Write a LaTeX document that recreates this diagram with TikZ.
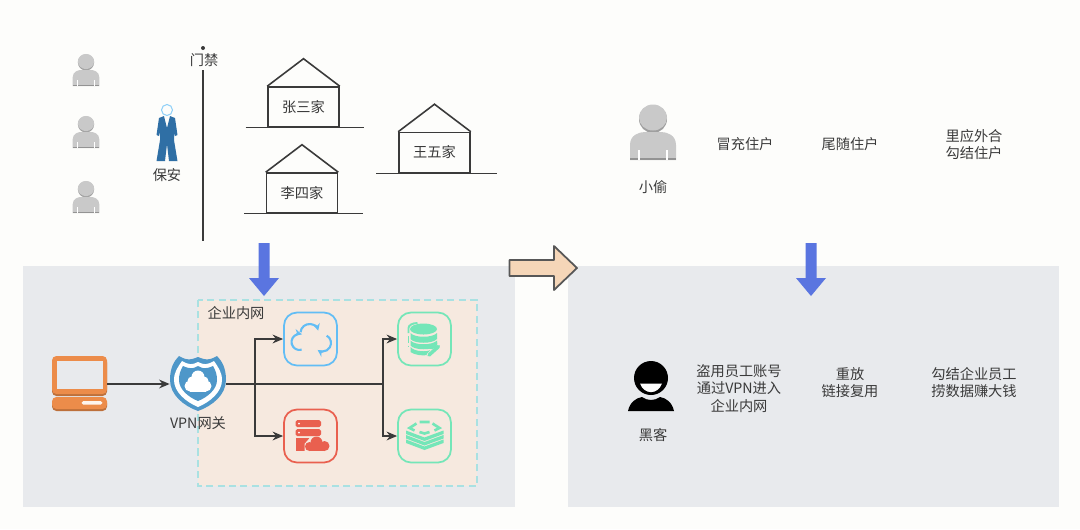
\documentclass[tikz,border=0pt]{standalone}
\usepackage{fontspec}
\setmainfont{Noto Sans CJK SC}
\usetikzlibrary{arrows.meta, positioning, calc}

\definecolor{pagebg}{HTML}{FDFDFB}
\definecolor{panelgray}{HTML}{E8EAED}
\definecolor{lanfill}{HTML}{F6E9DF}
\definecolor{lanedge}{HTML}{A9E1E2}
\definecolor{inktext}{HTML}{3A3A3A}
\definecolor{pushblue}{HTML}{5A75E0}
\definecolor{shieldblue}{HTML}{4E97C9}
\definecolor{suitblue}{HTML}{2F6FA5}
\definecolor{cloudblue}{HTML}{62BDF5}
\definecolor{serverred}{HTML}{E9604F}
\definecolor{dbgreen}{HTML}{74E6B8}
\definecolor{laptoporange}{HTML}{EC8C4A}
\definecolor{turnfill}{HTML}{F5D6B8}

\begin{document}
\begin{tikzpicture}[
    x=0.02cm, y=-0.02cm,
    every node/.style={font=\fontsize{8.1pt}{9.9pt}\selectfont, text=inktext, align=center, inner sep=0pt},
    lane/.style={draw=lanedge, dashed, dash pattern=on 4pt off 2.5pt, line width=0.8pt, fill=lanfill},
    housebox/.style={rectangle, draw=inktext, line width=0.9pt, minimum width=1.42cm, minimum height=0.8cm},
    ground/.style={draw=inktext, line width=0.8pt},
    iconbox/.style={rectangle, draw, rounded corners=0.26cm, line width=1pt, minimum size=1.06cm},
    arrow/.style={draw=inktext, line width=0.8pt, -{Stealth[length=6pt,width=5pt]}},
    trunk/.style={draw=inktext, line width=1pt},
    person/.pic={
        \fill[gray!75] (0,-20) ellipse (14 and 14);
        \fill[gray!42] (0,-21.5) ellipse (14 and 13);
        \fill[gray!42] (-23,21) -- (-23,6) .. controls (-23,-4) and (-14,-7) .. (-8,-7) -- (8,-7)
            .. controls (14,-7) and (23,-4) .. (23,6) -- (23,21) -- cycle;
        \fill[gray!85] (-23,18.5) rectangle (23,21);
        \draw[white, line width=0.6pt] (-14,11) -- (-14,21) (14,11) -- (14,21);
    },
    guard/.pic={
        \draw[cloudblue!70, line width=0.6pt] (0,-28) circle (5.5);
        \fill[suitblue] (-3,-22) -- (-8,-20) -- (-10.5,-3) -- (-8,-2) -- (-7,-6) -- (-7,2) -- (-10.5,23)
            -- (-2,23) -- (0,6) -- (2,23) -- (10.5,23) -- (7,2) -- (7,-6) -- (8,-2) -- (10.5,-3)
            -- (8,-20) -- (3,-22) -- (0,-10) -- cycle;
    },
    hacker/.pic={
        \fill[black] (0,-6) circle (17);
        \fill[white] (-11,-0.5) .. controls (-7,11) and (7,11) .. (11,-0.5) -- cycle;
        \fill[black] (-23,27) .. controls (-21,18) and (-15,14) .. (-9,13) .. controls (-3,17) and (3,17) .. (9,13)
            .. controls (15,14) and (21,18) .. (23,27) -- cycle;
    },
    pushdown/.pic={
        \fill[pushblue] (-5.5,0) -- (5.5,0) -- (5.5,35) -- (15,35) -- (0,53) -- (-15,35) -- (-5.5,35) -- cycle;
    },
    laptopicon/.pic={
        \fill[laptoporange!80!black, rounded corners=2.5pt] (-27.5,-26) rectangle (27.5,12);
        \fill[laptoporange, rounded corners=2.5pt] (-27.5,-28) rectangle (27.5,10);
        \fill[panelgray] (-23,-23) rectangle (23,5);
        \fill[laptoporange!80!black, rounded corners=2.5pt] (-27.5,15) rectangle (27.5,27);
        \fill[laptoporange, rounded corners=2.5pt] (-27.5,13) rectangle (27.5,25);
        \fill[white!90!laptoporange, rounded corners=1pt] (2,17) rectangle (23,20.5);
    },
    shieldicon/.pic={
        \fill[shieldblue] (-19,-27) .. controls (-10,-22) and (-8,-23) .. (0,-26) .. controls (8,-23) and (10,-22) .. (19,-27)
            .. controls (24,-22) and (28,-15) .. (28,-3) .. controls (28,12) and (14,23) .. (0,28)
            .. controls (-14,23) and (-28,12) .. (-28,-3) .. controls (-28,-15) and (-24,-22) .. (-19,-27) -- cycle;
        \fill[white] (-16,-22) .. controls (-9,-18) and (-6,-18) .. (0,-21) .. controls (6,-18) and (9,-18) .. (16,-22)
            .. controls (20,-16) and (24,-11) .. (24,-3) .. controls (24,9) and (12,19) .. (0,24)
            .. controls (-12,19) and (-24,9) .. (-24,-3) .. controls (-24,-11) and (-20,-16) .. (-16,-22) -- cycle;
        \fill[shieldblue] (-15,-17) .. controls (-8,-14) and (-5,-14) .. (0,-17) .. controls (5,-14) and (8,-14) .. (15,-17)
            .. controls (18,-12) and (19,-8) .. (19,-3) .. controls (19,6) and (10,14) .. (0,18)
            .. controls (-10,14) and (-19,6) .. (-19,-3) .. controls (-19,-8) and (-18,-12) .. (-15,-17) -- cycle;
        \fill[white] (-8,3) circle (5.5);
        \fill[white] (8,3) circle (5.5);
        \fill[white] (-6,-2) circle (4.5);
        \fill[white] (6,-2) circle (4.5);
        \fill[white] (0,-6) circle (6.5);
        \fill[white] (-8,0) rectangle (8,8.5);
    },
    syncicon/.pic={
        \begin{scope}[cloudblue, line width=1.2pt]
        \draw[-{Stealth[length=4pt,width=4pt]}] ([shift={(-1,-6)}]185:9) arc (185:345:9);
        \draw[-{Stealth[length=4pt,width=4pt]}] ([shift={(12,4)}]-60:8.5) arc (-60:125:8.5);
        \draw[-{Stealth[length=4pt,width=4pt]}] ([shift={(-11,3)}]75:8) arc (75:285:8);
        \end{scope}
    },
    servericon/.pic={
        \fill[serverred, rounded corners=1pt] (-15,-16) rectangle (10.5,-9);
        \fill[serverred, rounded corners=1pt] (-15,-7) rectangle (10.5,0);
        \fill[serverred] (-15,2) rectangle (-1,15);
        \fill[white] (-11.5,-12.5) circle (1);
        \fill[white] (-11.5,-3.5) circle (1);
        \fill[lanfill] (-6,16) -- (-6,8) -- (0,1) -- (21,1) -- (21,16) -- cycle;
        \fill[serverred] (-1,10.5) circle (4.5);
        \fill[serverred] (6,6.5) circle (6);
        \fill[serverred] (14,10) circle (5);
        \fill[serverred] (-1,10) rectangle (14,15);
    },
    dbicon/.pic={
        \draw[dbgreen, line width=1.1pt] (-16,-6) -- (-16,-11) arc (180:270:9 and 5);
        \draw[dbgreen, line width=1.1pt, dash pattern=on 4pt off 1.5pt] (-16,-3) -- (-16,7);
        \fill[dbgreen] (-1,-10) ellipse (13.5 and 5.5);
        \fill[dbgreen] (-14,-6) .. controls (-10,-1) and (8,-1) .. (12.5,-6) -- (12.5,0) .. controls (8,5) and (-10,5) .. (-14,0) -- cycle;
        \fill[dbgreen] (-14,1.5) .. controls (-10,6.5) and (8,6.5) .. (12.5,1.5) -- (12.5,6.5) .. controls (8,11.5) and (-10,11.5) .. (-14,6.5) -- cycle;
        \fill[dbgreen] (-14,8) .. controls (-10,13) and (3,13) .. (6,11) -- (3,16) .. controls (-2,17) and (-10,16) .. (-14,13) -- cycle;
        \draw[lanfill, line width=3pt] (4,17) -- (14,7);
        \draw[dbgreen, line width=2pt, line cap=round] (4.5,16) -- (14,7.5);
        \draw[dbgreen, line width=1.6pt] (11.5,3.5) arc (170:320:-4.5);
    },
    stackicon/.pic={
        \fill[dbgreen] (-18.5,-5.5) -- (0,1.5) -- (19,-5.5) -- (19,-2) -- (0,5) -- (-18.5,-2) -- cycle;
        \fill[dbgreen] (-18.5,-1) -- (0,6) -- (19,-1) -- (19,2.5) -- (0,9.5) -- (-18.5,2.5) -- cycle;
        \fill[dbgreen] (-18.5,3.5) -- (0,10.5) -- (19,3.5) -- (19,7) -- (0,14) -- (-18.5,7) -- cycle;
        \draw[dbgreen, line width=1.5pt] (-5,-14) -- (5,-14) (-8,-12.5) -- (-15,-8) -- (-10,-5.5) (8,-12.5) -- (15,-8) -- (10,-5.5) (-5,-4) -- (0,-2.5) -- (5,-4);
    }
]

% Page and panels
\fill[pagebg] (0,0) rectangle (1080,529);
\fill[panelgray] (23,266) rectangle (515,507);
\fill[panelgray] (568,266) rectangle (1059,507);
\path[lane] (198,300) rectangle (477,486);

% Residents
\pic[scale=0.58] at (86,74) {person};
\pic[scale=0.58] at (86,136) {person};
\pic[scale=0.58] at (86,201) {person};

% Guard
\pic at (167,138) {guard};
\node (guardlabel) at (167,175) {保安};

% Gate
\coordinate (gatetop) at (203,70);
\coordinate (gatebottom) at (203,241);
\fill[inktext] (203,48) circle (2);
\node (gatelabel) at (204,60.5) {门禁};
\draw[inktext, line width=1.7pt] (gatetop) -- (gatebottom);

% Houses
\node[housebox] (zhang) at (303.5,107) {张三家};
\node[housebox] (li) at (302,193) {李四家};
\node[housebox] (wang) at (434.5,152.5) {王五家};
\foreach \home in {zhang, li, wang} {
    \draw[inktext, line width=0.9pt] (\home.north west) -- ($(\home.north)+(0,-27.5)$) -- (\home.north east);
}
\draw[ground] ($(zhang.south)+(-58,0)$) -- ($(zhang.south)+(60,0)$);
\draw[ground] ($(li.south)+(-58,0)$) -- ($(li.south)+(61,0)$);
\draw[ground] ($(wang.south)+(-58.5,0)$) -- ($(wang.south)+(62,0)$);

% Thief and methods
\pic at (653,139) {person};
\node (thief) at (653,187.5) {小偷};
\node (impostor) at (745,144.5) {冒充住户};
\node (tailgate) at (850,144.5) {尾随住户};
\node (insider) at (974,144.5) {里应外合\\勾结住户};

% Arrows between rows
\pic at (264,243) {pushdown};
\pic at (811,243) {pushdown};
\draw[inktext!85, line width=1pt, line join=round, fill=turnfill] (509.5,260) -- (554,260) -- (554,246) -- (577,268) -- (554,290) -- (554,276) -- (509.5,276) -- cycle;

% Enterprise network
\node (lanlabel) at (236,313.5) {企业内网};
\pic at (79.5,384) {laptopicon};
\pic at (198,383) {shieldicon};
\node[minimum width=1.1cm, minimum height=1.1cm] (laptop) at (79.5,384) {};
\node[minimum width=1.12cm, minimum height=1.1cm] (vpn) at (198,384) {};
\node (vpnlabel) at (198,423.5) {VPN网关};

\node[iconbox, draw=cloudblue] (sync) at (310.5,339) {};
\node[iconbox, draw=serverred] (server) at (310.5,436) {};
\node[iconbox, draw=dbgreen] (database) at (424.5,339) {};
\node[iconbox, draw=dbgreen] (stack) at (424.5,436) {};
\pic at (sync) {syncicon};
\pic at (server) {servericon};
\pic at (database) {dbicon};
\pic at (stack) {stackicon};

% Connections
\coordinate (splitnear) at (255,384);
\coordinate (splitfar) at (383,384);
\draw[arrow] (laptop) -- (vpn);
\draw[trunk] (vpn) -- (splitfar);
\draw[arrow] (splitnear) |- (sync);
\draw[arrow] (splitnear) |- (server);
\draw[arrow] (splitfar) |- (database);
\draw[arrow] (splitfar) |- (stack);

% Hacker and methods
\pic at (651,384) {hacker};
\node (hackerlabel) at (653,435.5) {黑客};
\node (stolen) at (739,388.5) {盗用员工账号\\通过VPN进入\\企业内网};
\node (replay) at (850,382.5) {重放\\链接复用};
\node (collude) at (974,382.5) {勾结企业员工\\捞数据赚大钱};

\end{tikzpicture}
\end{document}
